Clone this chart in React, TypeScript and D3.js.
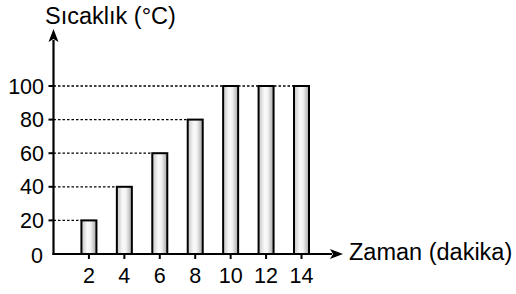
import { useEffect, useRef } from 'react';
import * as d3 from 'd3';

const minutes = [2, 4, 6, 8, 10, 12, 14];
const temps = [20, 40, 60, 80, 100, 100, 100];
const yTicks = [0, 20, 40, 60, 80, 100];

const FONT = 'Liberation Sans, Arial, Helvetica, sans-serif';

export default function App() {
  const svgRef = useRef<SVGSVGElement>(null);

  useEffect(() => {
    if (!svgRef.current) return;
    const svg = d3.select(svgRef.current);
    svg.selectAll('*').remove();

    const x = d3.scaleLinear().domain([0, 14]).range([53.5, 301.5]);
    const y = d3.scaleLinear().domain([0, 100]).range([254, 86]);
    const barW = 15;

    // gradient for bars
    const defs = svg.append('defs');
    const grad = defs.append('linearGradient').attr('id', 'barGrad')
      .attr('x1', '0%').attr('x2', '100%').attr('y1', '0%').attr('y2', '0%');
    grad.append('stop').attr('offset', '0%').attr('stop-color', '#c4c4c4');
    grad.append('stop').attr('offset', '40%').attr('stop-color', '#fafafa');
    grad.append('stop').attr('offset', '60%').attr('stop-color', '#f4f4f4');
    grad.append('stop').attr('offset', '100%').attr('stop-color', '#a6a6a6');

    // dotted guide lines: axis -> left edge of last bar with that value
    yTicks.filter((t) => t > 0).forEach((t) => {
      let last = -1;
      temps.forEach((v, i) => { if (v === t) last = i; });
      if (last < 0) return;
      svg.append('line')
        .attr('x1', x(0)).attr('x2', x(minutes[last]) - barW / 2)
        .attr('y1', y(t)).attr('y2', y(t))
        .attr('stroke', '#000').attr('stroke-width', 1.3)
        .attr('stroke-dasharray', '2.5,2');
    });

    // bars
    minutes.forEach((m, i) => {
      svg.append('rect')
        .attr('x', x(m) - barW / 2).attr('y', y(temps[i]))
        .attr('width', barW).attr('height', y(0) - y(temps[i]))
        .attr('fill', 'url(#barGrad)')
        .attr('stroke', '#000').attr('stroke-width', 2);
    });

    // axes lines
    svg.append('line').attr('x1', x(0)).attr('x2', x(0))
      .attr('y1', y(0) + 1).attr('y2', 40)
      .attr('stroke', '#000').attr('stroke-width', 2.2);
    svg.append('path')
      .attr('d', `M${x(0)},29 L${x(0) - 5},42 L${x(0)},39 L${x(0) + 5},42 Z`)
      .attr('fill', '#000');

    svg.append('line').attr('x1', x(0) - 1).attr('x2', 332)
      .attr('y1', y(0)).attr('y2', y(0))
      .attr('stroke', '#000').attr('stroke-width', 2.2);
    svg.append('path')
      .attr('d', `M343,${y(0)} L330,${y(0) - 5} L333,${y(0)} L330,${y(0) + 5} Z`)
      .attr('fill', '#000');

    // y ticks
    yTicks.forEach((t) => {
      if (t > 0) {
        svg.append('line').attr('x1', x(0) - 5).attr('x2', x(0))
          .attr('y1', y(t)).attr('y2', y(t))
          .attr('stroke', '#000').attr('stroke-width', 2);
      }
      svg.append('text')
        .attr('x', t === 0 ? 43 : 44).attr('y', y(t) + (t === 0 ? 9 : 7.5))
        .attr('text-anchor', 'end')
        .attr('font-family', FONT).attr('font-size', 21.5)
        .attr('fill', '#000')
        .text(t);
    });

    // x ticks
    minutes.forEach((m) => {
      svg.append('line').attr('x1', x(m)).attr('x2', x(m))
        .attr('y1', y(0)).attr('y2', y(0) + 5)
        .attr('stroke', '#000').attr('stroke-width', 2);
      svg.append('text')
        .attr('x', x(m)).attr('y', 282.5)
        .attr('text-anchor', 'middle')
        .attr('font-family', FONT).attr('font-size', 21.5)
        .attr('fill', '#000')
        .text(m);
    });

    // axis titles
    svg.append('text').attr('x', 45).attr('y', 24)
      .attr('font-family', FONT).attr('font-size', 23.5).attr('fill', '#000')
      .text('Sıcaklık (°C)');
    svg.append('text').attr('x', 349).attr('y', 260)
      .attr('font-family', FONT).attr('font-size', 23.5).attr('fill', '#000')
      .text('Zaman (dakika)');
  }, []);

  return (
    <svg
      ref={svgRef}
      width={516}
      height={294}
      viewBox="0 0 516 294"
      style={{ position: 'absolute', left: 0, top: 0, background: '#fff' }}
    />
  );
}
